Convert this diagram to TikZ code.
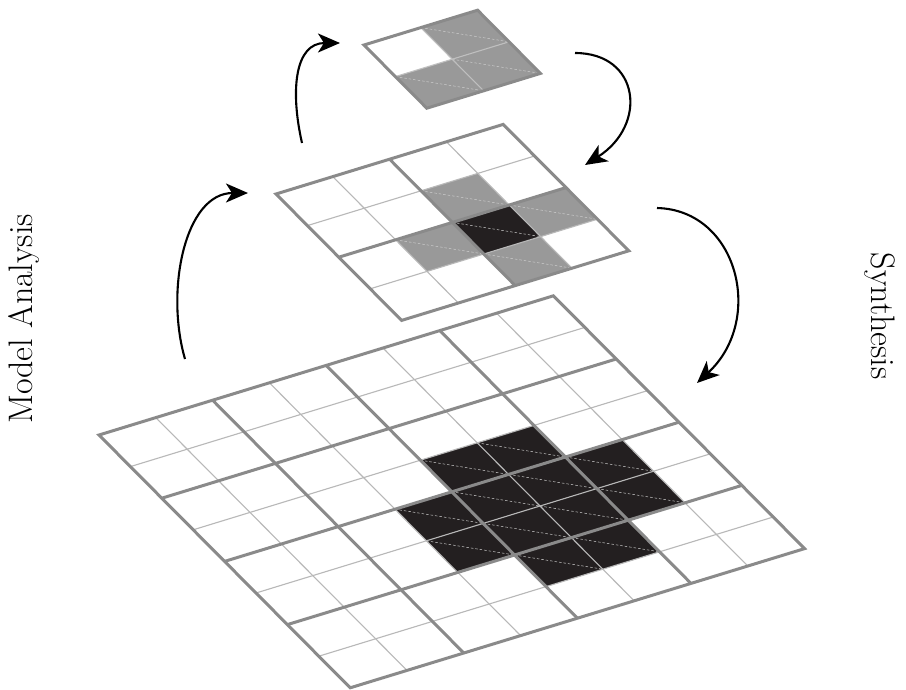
\documentclass[tikz,border=0pt]{standalone}
\usetikzlibrary{arrows.meta}
\definecolor{gfill}{HTML}{999999}
\definecolor{bfill}{HTML}{231F20}
\definecolor{thickc}{HTML}{8A8A8A}
\definecolor{thinc}{HTML}{B8B8B8}
\tikzset{
  thickline/.style={draw=thickc, line width=3pt, line join=miter},
  thinline/.style={draw=thinc, line width=1.1pt},
  diagline/.style={draw=white!80!black, line width=0.5pt, dash pattern=on 2.5pt off 2pt},
  flow/.style={draw=black, line width=2.1pt, -{Stealth[length=22pt,width=19pt,inset=6pt]}},
  lbl/.style={font=\fontsize{34}{40}\selectfont, inner sep=0pt},
  cellvec/.style={x={(56.8pt,17.4pt)}, y={(31.4pt,-31.6pt)}}
}
\newcommand{\gcell}[3]{\fill[#3] (#1,#2) -- ++(1,0) -- ++(0,1) -- ++(-1,0) -- cycle;
  \draw[diagline] (#1,#2) -- ++(1,1);}
\begin{document}
\begin{tikzpicture}[x=1pt,y=-1pt]
\useasboundingbox (0,0) rectangle (906,689);
\fill[white] (0,0) rectangle (906,689);

% large grid 8x8
\begin{scope}[shift={(99pt,-435pt)}, cellvec]
  \foreach \i/\j in {4/3,5/3,3/4,4/4,5/4,6/4,3/5,4/5,5/5,6/5,4/6,5/6}{\gcell{\i}{\j}{bfill}}
  \foreach \k in {1,3,5,7}{\draw[thinline] (\k,0) -- (\k,8); \draw[thinline] (0,\k) -- (8,\k);}
  \foreach \k in {2,4,6}{\draw[thickline] (\k,0) -- (\k,8); \draw[thickline] (0,\k) -- (8,\k);}
  \draw[thickline] (0,0) -- (8,0) -- (8,8) -- (0,8) -- cycle;
\end{scope}

% middle grid 4x4
\begin{scope}[shift={(276pt,-194pt)}, cellvec]
  \foreach \i/\j in {2/1,1/2,3/2,2/3}{\gcell{\i}{\j}{gfill}}
  \gcell{2}{2}{bfill}
  \foreach \k in {1,3}{\draw[thinline] (\k,0) -- (\k,4); \draw[thinline] (0,\k) -- (4,\k);}
  \draw[thickline] (2,0) -- (2,4); \draw[thickline] (0,2) -- (4,2);
  \draw[thickline] (0,0) -- (4,0) -- (4,4) -- (0,4) -- cycle;
\end{scope}

% top grid 2x2
\begin{scope}[shift={(364pt,-45pt)}, cellvec]
  \foreach \i/\j in {1/0,0/1,1/1}{\gcell{\i}{\j}{gfill}}
  \draw[draw=white!75!black, line width=1.1pt] (1,0) -- (1,2);
  \draw[draw=white!75!black, line width=1.1pt] (0,1) -- (2,1);
  \draw[thickline] (0,0) -- (2,0) -- (2,2) -- (0,2) -- cycle;
\end{scope}

% arrows
\coordinate (a1s) at (185,359);
\coordinate (a1e) at (248,193);
\coordinate (a2s) at (302,143);
\coordinate (a2e) at (340,43);
\coordinate (a3s) at (575,53);
\coordinate (a3e) at (585,165);
\coordinate (a4s) at (657,208);
\coordinate (a4e) at (697,383);
\draw[flow] (a1s) .. controls (165,290) and (185,193) .. (a1e);
\draw[flow] (a2s) .. controls (290,90) and (295,43) .. (a2e);
\draw[flow] (a3s) .. controls (640,53) and (648,125) .. (a3e);
\draw[flow] (a4s) .. controls (738,210) and (765,320) .. (a4e);

% labels
\node[lbl, rotate=90] (ma) at (24,319) {Model Analysis};
\node[lbl, rotate=-90] (syn) at (880,316) {Synthesis};
\end{tikzpicture}
\end{document}
